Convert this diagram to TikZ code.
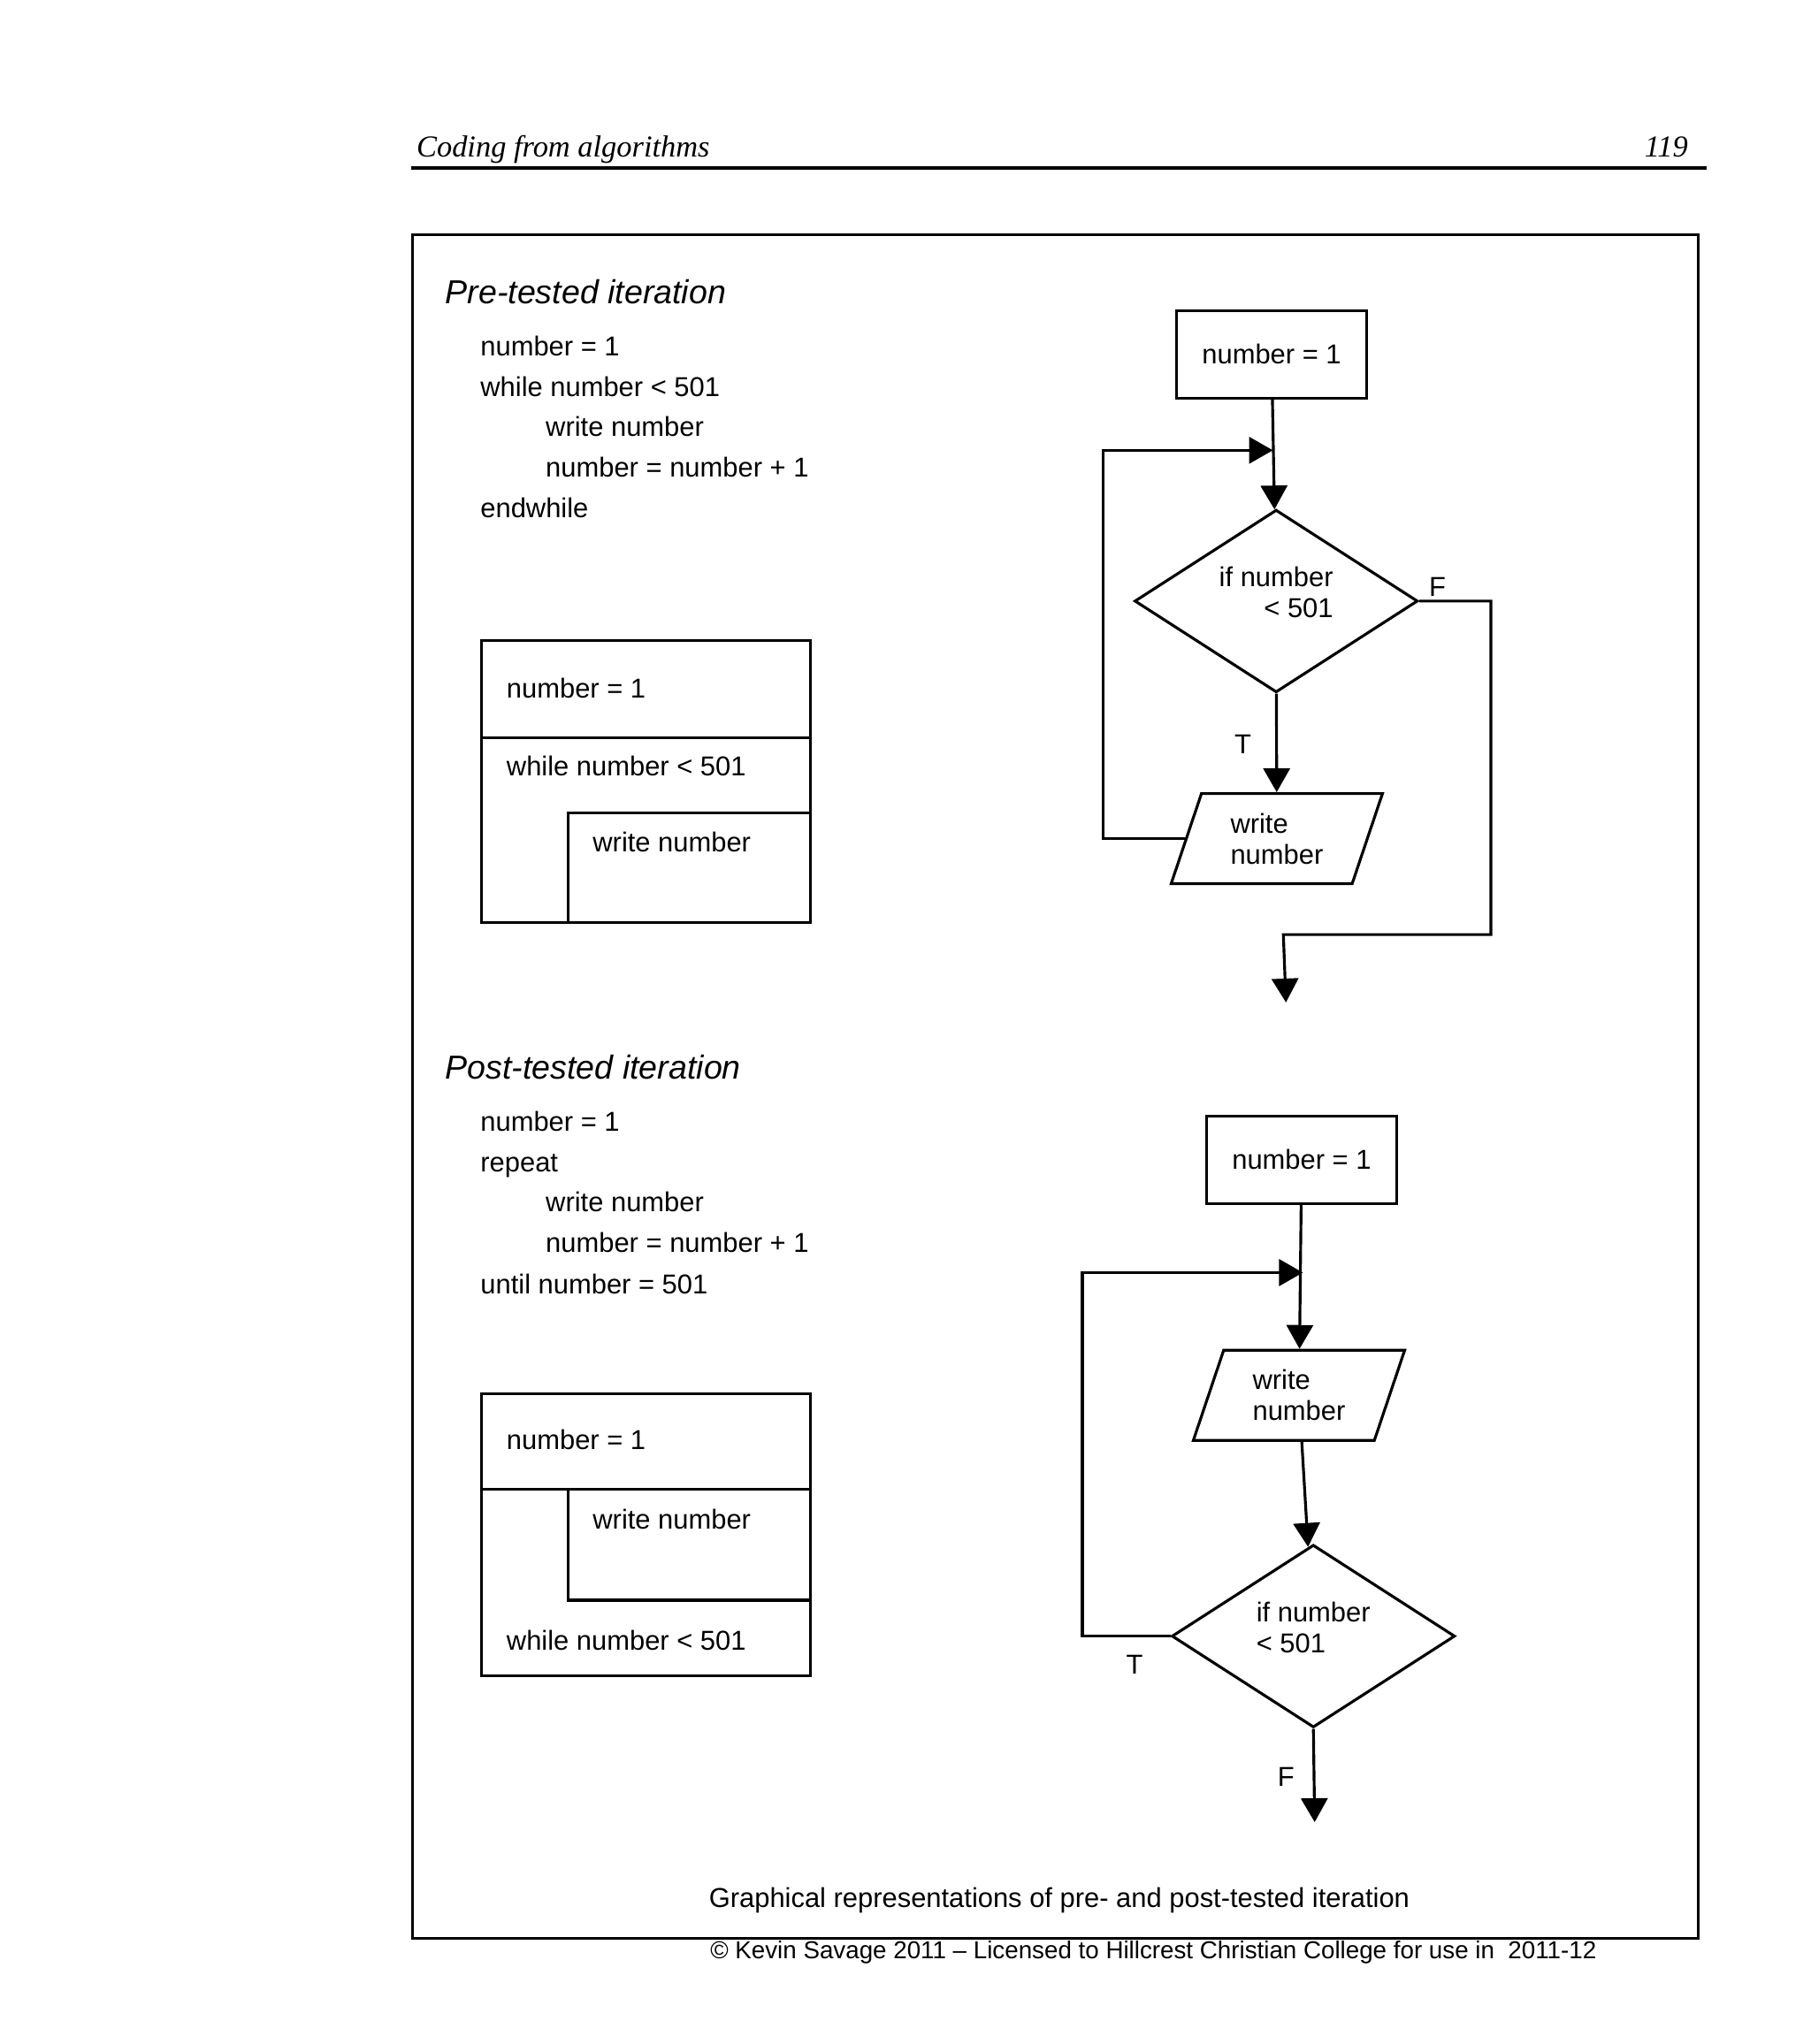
\documentclass[tikz,border=0pt]{standalone}
\usepackage{fontspec}
\setmainfont{Liberation Sans}
\newfontfamily\headfont{Liberation Serif}
\usetikzlibrary{shapes.geometric,arrows.meta}

\begin{document}
\begin{tikzpicture}[x=0.014766cm,y=-0.014766cm,line width=0.9pt,
   every node/.style={font=\fontsize{8.8}{10}\selectfont},
   txt/.style={anchor=base west,inner sep=0pt},
   process/.style={rectangle,draw,minimum width=2.156cm,minimum height=0.989cm},
   decision/.style={diamond,draw,inner sep=0pt,text depth=0.2cm,
      minimum width=3.204cm,minimum height=2.067cm},
   io/.style={trapezium,trapezium left angle=70,trapezium right angle=110,
      trapezium stretches=true,draw,inner sep=0pt,align=left,
      minimum width=2.392cm,minimum height=1.019cm},
   arr/.style={-{Triangle[width=0.3cm,length=0.27cm]}}]
   \useasboundingbox (0,0) rectangle (1387,1566);

   % page header and frame
   \node[txt,font=\headfont\itshape\fontsize{9.8}{12}\selectfont] (head) at (318,120) {Coding from algorithms};
   \node[anchor=base east,inner sep=0pt,font=\headfont\itshape\fontsize{9.8}{12}\selectfont] (page) at (1294,120) {119};
   \draw[line width=1.2pt] (315,128.5) -- (1307,128.5);
   \draw[line width=0.8pt] (316,180) rectangle (1301,1485);

   % pre-tested iteration
   \node[txt,font=\itshape\fontsize{10.7}{13}\selectfont] (pre) at (340,233) {Pre-tested iteration};
   \node[txt] (pa) at (367,272.5) {number = 1};
   \node[txt] (pb) at (367,303.5) {while number < 501};
   \node[txt] (pc) at (417,334.5) {write number};
   \node[txt] (pd) at (417,365.5) {number = number + 1};
   \node[txt] (pe) at (367,396.5) {endwhile};

   \draw (369,491) rectangle (621,707);
   \draw (369,565) -- (621,565);
   \draw (435,707) |- (621,623);
   \node[txt] (na) at (387,534.5) {number = 1};
   \node[txt] (nb) at (387,594.5) {while number < 501};
   \node[txt] (nc) at (453,652.5) {write number};

   % post-tested iteration
   \node[txt,font=\itshape\fontsize{10.7}{13}\selectfont] (post) at (340,827) {Post-tested iteration};
   \node[txt] (qa) at (367,866.5) {number = 1};
   \node[txt] (qb) at (367,897.5) {repeat};
   \node[txt] (qc) at (417,928.5) {write number};
   \node[txt] (qd) at (417,959.5) {number = number + 1};
   \node[txt] (qe) at (367,991.5) {until number = 501};

   \draw (369,1068) rectangle (621,1284);
   \draw (369,1141) -- (621,1141);
   \draw (435,1141) rectangle (621,1226);
   \node[txt] (ma) at (387,1110.5) {number = 1};
   \node[txt] (mb) at (453,1171.5) {write number};
   \node[txt] (mc) at (387,1264.5) {while number < 501};

   % flowcharts
   \begin{scope}
    \node[process] (s1) at (974,271.5) {number = 1};
    \node[decision,align=right] (d1) at (977.5,460.5) {if number\\< 501};
    \node[io] (w1) at (978,642.5) {write\\number};
    \coordinate (l1) at (845,345);
    \coordinate (j1) at (975,345);
    \coordinate (f1) at (1142,716);
    \coordinate (f2) at (983,716);
    \coordinate (e1) at (985,768);
    \node (tf1) at (1101,450) {F};
    \node (tt1) at (952,570) {T};

    \node[process] (s2) at (997,888.5) {number = 1};
    \node[io] (w2) at (995,1069) {write\\number};
    \node[decision,align=left] (d2) at (1006,1253.5) {if number\\< 501};
    \coordinate (l2) at (829,975);
    \coordinate (j2) at (998,975);
    \coordinate (e2) at (1007,1396);
    \node (tt2) at (869,1275) {T};
    \node (tf2) at (985,1361) {F};
   \end{scope}
   \begin{scope}[every path/.style={arr}]
    \draw (s1) -- (d1);
    \draw (d1) -- (w1);
    \draw (w1.west) -| (l1) -- (j1);
    \draw (d1.east) -| (f1) -- (f2) -- (e1);
    \draw (s2) -- (w2);
    \draw (w2) -- (d2);
    \draw (d2.west) -| (l2) -- (j2);
    \draw (d2.south) -- (e2);
   \end{scope}

   % caption and footer
   \node[txt] (cap) at (542,1461.5) {Graphical representations of pre- and post-tested iteration};
   \node[txt,font=\fontsize{7.9}{9}\selectfont] (copy) at (543,1500.5) {© Kevin Savage 2011 – Licensed to Hillcrest Christian College for use in \ 2011-12};
\end{tikzpicture}
\end{document}
